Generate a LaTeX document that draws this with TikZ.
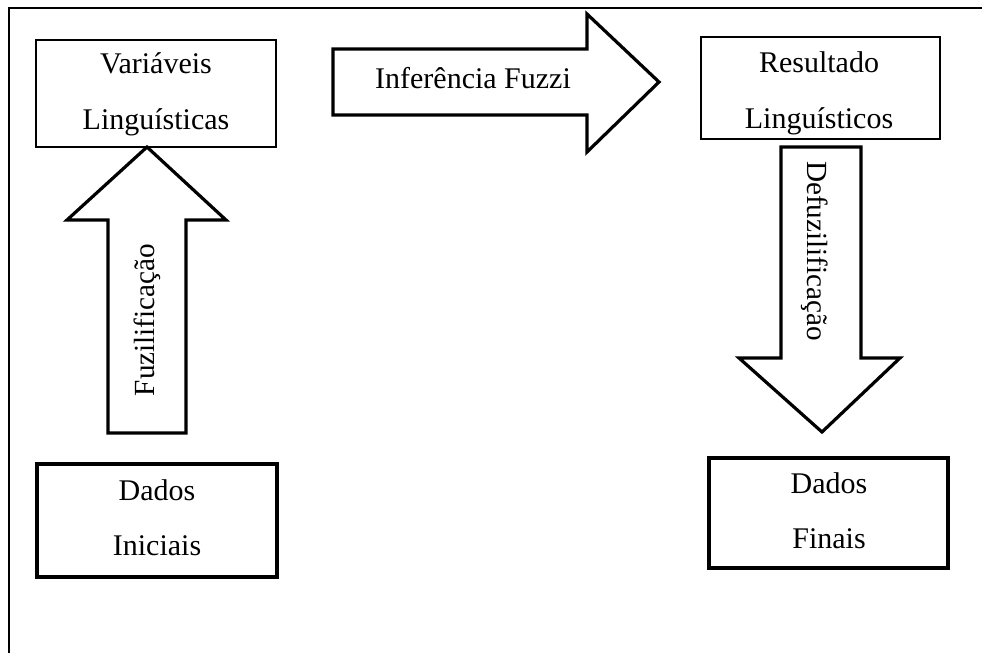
\documentclass[tikz,border=0pt]{standalone}
\usepackage{fontspec}
\setmainfont{Liberation Serif}
\begin{document}
\begin{tikzpicture}[x=0.5pt,y=-0.5pt,
  txt/.style={inner sep=0pt,font=\fontsize{15}{18}\selectfont,anchor=base},
  rtxt/.style={inner sep=0pt,font=\fontsize{14.6}{18}\selectfont},
  thinbox/.style={draw,line width=1.1pt},
  thickbox/.style={draw,line width=1.7pt},
  bigarrow/.style={draw,line width=1.6pt,line join=miter,fill=white}]
\useasboundingbox (0,0) rectangle (982,653);
% frame
\coordinate (fa) at (9,653);
\coordinate (fb) at (9,8);
\coordinate (fc) at (982,8);
\draw[line width=0.7pt] (fa) -- (fb) -- (fc);
% boxes
\draw[thinbox] (36,40) rectangle (276,147);
\draw[thinbox] (701,37) rectangle (940,139);
\draw[thickbox] (37,464) rectangle (277,577);
\draw[thickbox] (709,458) rectangle (948,568);
% box texts
\node[txt] (v1) at (156,74) {Variáveis};
\node[txt] (v2) at (156,129) {Linguísticas};
\node[txt] (r1) at (819,72) {Resultado};
\node[txt] (r2) at (819,128) {Linguísticos};
\node[txt] (d1) at (157,500) {Dados};
\node[txt] (d2) at (157,555) {Iniciais};
\node[txt] (f1) at (829,493) {Dados};
\node[txt] (f2) at (829,548) {Finais};
% right arrow
\draw[bigarrow] (333,49) -- (587,49) -- (587,14) -- (659,82) -- (587,152) -- (587,115) -- (333,115) -- cycle;
\node[txt] (inf) at (473,89) {Inferência Fuzzi};
% up arrow
\draw[bigarrow] (108,433) -- (108,220) -- (67,220) -- (147,147) -- (226,220) -- (186,220) -- (186,433) -- cycle;
\node[rtxt,rotate=90] (fuz) at (147,320) {Fuzilificação};
% down arrow
\draw[bigarrow] (781,147) -- (861,147) -- (861,358) -- (900,358) -- (822,432) -- (739,358) -- (781,358) -- cycle;
\node[rtxt,rotate=-90] (defuz) at (815,251) {Defuzilificação};
\end{tikzpicture}
\end{document}
